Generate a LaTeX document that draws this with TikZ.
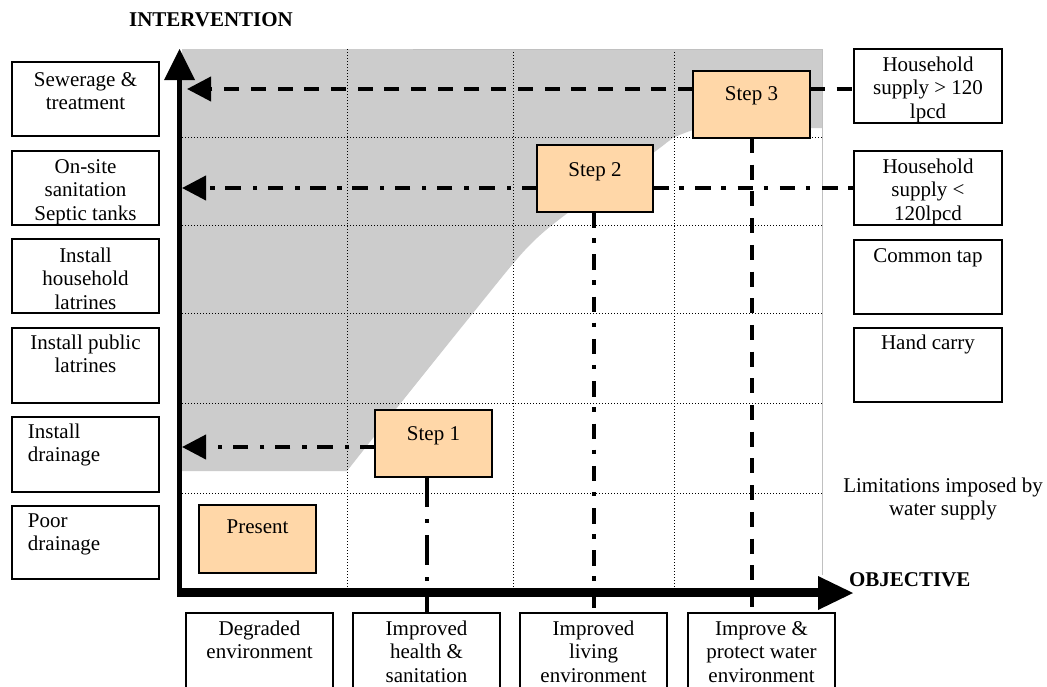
\documentclass[tikz,border=0pt]{standalone}
\usepackage{fontspec}
\setmainfont{Liberation Serif}
\usetikzlibrary{arrows.meta,calc}
\definecolor{peach}{RGB}{255,215,168}
\definecolor{zonegrey}{RGB}{204,204,204}
\definecolor{rim}{RGB}{192,192,192}
\newcommand\tsize{\fontsize{21pt}{23.5pt}\selectfont}
% top-aligned box contents: width, height, first baseline depth, text
\newcommand\cbox[4]{\parbox[t][#2][t]{#1}{\centering\rule{0pt}{#3}#4\par}}
\newcommand\lbox[4]{\parbox[t][#2][t]{#1}{\raggedright\leftskip=16pt\rule{0pt}{#3}#4\par}}
\begin{document}
\begin{tikzpicture}[x=1pt,y=-1pt,font=\tsize,
  every node/.style={inner sep=0pt,outer sep=0pt},
  tbox/.style={draw,line width=1.6pt,fill=white,anchor=north west},
  stepbox/.style={draw,line width=1.6pt,fill=peach,anchor=north west},
  gridline/.style={line width=0.9pt,dash pattern=on 1pt off 2pt},
  dashline/.style={line width=4pt,dash pattern=on 15pt off 11.7pt},
  dashdot/.style={line width=4pt,dash pattern=on 15.5pt off 10.5pt on 4.5pt off 11.8pt},
  longdashdot/.style={line width=4pt,dash pattern=on 30pt off 12pt on 4pt off 12pt},
  headarrow/.style={-{Triangle[length=24pt 0 0,width=24pt 0 0]}},
  axislabel/.style={font=\tsize\bfseries}]

\useasboundingbox (0,0) rectangle (1047,686);
\clip (0,0) rectangle (1047,686);
\fill[white] (0,0) rectangle (1047,686);

% grey zone of feasible interventions
\fill[zonegrey] (182,49) -- (822,49) -- (822,128) -- (720,128)
  -- plot[smooth,tension=0.5] coordinates {(693,130) (673,138) (653,153) (565,215) (525,250) (473,313) (400,404) (347,471)}
  -- (182,471) -- cycle;

% dotted grid
\foreach \yy in {137,225,313,403,493}
  \draw[gridline] (182,\yy) -- (822,\yy);
\foreach \xx in {347,513,674}
  \draw[gridline] (\xx,49) -- (\xx,588);
\draw[rim,line width=1pt] (413,49) -- (822,49) -- (822,575);

% axes
\draw[line width=5pt] (179.5,596) -- (179.5,78);
\fill (164,80) -- (195,80) -- (179.5,49) -- cycle;
\draw[line width=8.5pt] (177,592.5) -- (820,592.5);
\fill (818,576) -- (818,610) -- (853,593) -- cycle;

\node[axislabel,anchor=base] (ylab) at (211,26) {INTERVENTION};
\node[axislabel,anchor=base west] (xlab) at (849,586) {OBJECTIVE};
\node[anchor=north] (lim) at (943,472) {\cbox{220pt}{50pt}{20pt}{Limitations imposed by\\water supply}};

% interventions
\node[tbox] (l1) at (12,62)  {\cbox{147pt}{74pt}{24pt}{Sewerage \&\\treatment}};
\node[tbox] (l2) at (12,151) {\cbox{147pt}{74pt}{22pt}{On-site\\sanitation\\Septic tanks}};
\node[tbox] (l3) at (12,239) {\cbox{147pt}{74pt}{23pt}{Install\\household\\latrines}};
\node[tbox] (l4) at (12,328) {\cbox{147pt}{75pt}{21pt}{Install public\\latrines}};
\node[tbox] (l5) at (12,417) {\lbox{147pt}{75pt}{21pt}{Install\\drainage}};
\node[tbox] (l6) at (12,506) {\lbox{147pt}{73pt}{21pt}{Poor\\drainage}};

% water supply levels
\node[tbox] (r1) at (854,49)  {\cbox{148pt}{74pt}{22pt}{Household\\supply > 120\\lpcd}};
\node[tbox] (r2) at (854,151) {\cbox{148pt}{74pt}{22pt}{Household\\supply <\\120lpcd}};
\node[tbox] (r3) at (854,240) {\cbox{148pt}{74pt}{22pt}{Common tap}};
\node[tbox] (r4) at (854,328) {\cbox{148pt}{74pt}{21pt}{Hand carry}};

% objectives
\node[tbox] (b1) at (186,613) {\cbox{147pt}{90pt}{22pt}{Degraded\\environment}};
\node[tbox] (b2) at (353,613) {\cbox{147pt}{90pt}{22pt}{Improved\\health \&\\sanitation}};
\node[tbox] (b3) at (520,613) {\cbox{147pt}{90pt}{22pt}{Improved\\living\\environment}};
\node[tbox] (b4) at (688,613) {\cbox{147pt}{90pt}{22pt}{Improve \&\\protect water\\environment}};

% steps
\node[stepbox] (p)  at (199,505) {\cbox{117pt}{68pt}{28pt}{Present}};
\node[stepbox] (s1) at (375,410) {\cbox{117pt}{67pt}{30pt}{Step 1}};
\node[stepbox] (s2) at (537,145) {\cbox{116pt}{67pt}{31pt}{Step 2}};
\node[stepbox] (s3) at (693,71)  {\cbox{117pt}{67pt}{29pt}{Step 3}};

% links from steps to axes and boxes
\coordinate (t3) at (187,89);
\coordinate (t2) at (182,188);
\coordinate (t1) at (182,447);
\draw[dashline,headarrow] (s3.west |- t3) -- (t3);
\draw[dashline] (s3.east |- t3) -- (r1.west |- t3);
\draw[dashline] (s3.south) -- (s3.south |- b4.north);
\draw[dashdot,headarrow] (s2.west |- t2) -- (t2);
\draw[dashdot] (s2.east |- t2) -- (r2.west |- t2);
\draw[dashdot] (s2.south -| b3.north) -- (b3.north);
\draw[dashdot,headarrow] (s1.west |- t1) -- (t1);
\draw[longdashdot] (s1.south -| b2.north) -- (b2.north);
\end{tikzpicture}
\end{document}
